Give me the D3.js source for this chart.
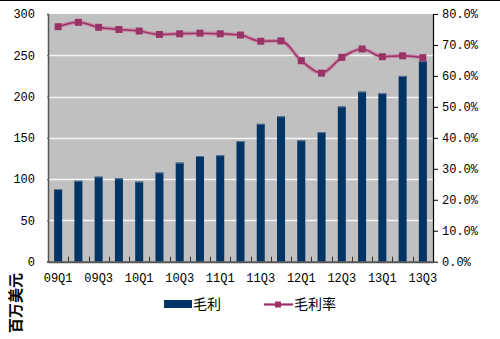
<!DOCTYPE html>
<html><head><meta charset="utf-8">
<script src="https://cdn.jsdelivr.net/npm/d3@7"></script>
<style>body{margin:0;background:#fff}svg{display:block}</style>
</head><body><svg id="c" width="500" height="339"></svg>
<script>
const categories = ["09Q1","09Q2","09Q3","09Q4","10Q1","10Q2","10Q3","10Q4","11Q1","11Q2","11Q3","11Q4","12Q1","12Q2","12Q3","12Q4","13Q1","13Q2","13Q3"];
const grossProfit = [88,98,103,101,97,108,120,128,129,146,167,176,147,157,188,206,204,225,243];
const grossMargin = [75.9,77.3,75.7,75.0,74.5,73.4,73.6,73.8,73.6,73.2,71.2,71.3,64.9,60.9,66.0,68.7,66.2,66.5,65.9];
const leftTicks = [0,50,100,150,200,250,300];
const rightTicks = [0,10,20,30,40,50,60,70,80];
const xLabels = ["09Q1","09Q3","10Q1","10Q3","11Q1","11Q3","12Q1","12Q3","13Q1","13Q3"];

const svg = d3.select("#c");
const L = 48, R = 433, T = 14, B = 261.7;
const fontMono = "'Liberation Mono', monospace";

svg.append("line").attr("x1",0).attr("x2",500).attr("y1",0.5).attr("y2",0.5).attr("stroke","#000");

const x = d3.scaleBand().domain(categories).range([L,R]).paddingInner(0).paddingOuter(0);
const yL = d3.scaleLinear().domain([0,300]).range([B,T]);
const yR = d3.scaleLinear().domain([0,80]).range([B,T]);

svg.append("rect").attr("x",L).attr("y",T).attr("width",R-L).attr("height",B-T).attr("fill","#c0c0c0");

// gridlines
svg.append("g").selectAll("line").data(leftTicks.filter(d=>d>0 && d<300)).join("line")
  .attr("x1",L).attr("x2",R).attr("y1",d=>Math.round(yL(d))+0.5).attr("y2",d=>Math.round(yL(d))+0.5)
  .attr("stroke","#f4f4f4").attr("stroke-width",1.5);

// bars
const bw = 8;
const bars = svg.append("g");
bars.selectAll("rect.b").data(grossProfit).join("rect").attr("class","b")
  .attr("x",(d,i)=>x(categories[i])+x.bandwidth()/2-bw/2)
  .attr("y",d=>yL(d)).attr("width",bw).attr("height",d=>B-yL(d)).attr("fill","#003366");
bars.selectAll("rect.h").data(grossProfit).join("rect").attr("class","h")
  .attr("x",(d,i)=>x(categories[i])+x.bandwidth()/2-bw/2)
  .attr("y",d=>yL(d)).attr("width",bw).attr("height",1).attr("fill","#5a7896");

// left axis
const gL = svg.append("g").attr("transform",`translate(${L},0)`)
  .call(d3.axisLeft(yL).tickValues(leftTicks).tickSize(1).tickPadding(12));
gL.select(".domain").attr("stroke","#555").attr("stroke-width",1.5);
gL.selectAll(".tick line").attr("stroke","#555");
gL.selectAll("text").attr("font-family",fontMono).attr("font-size","12px").attr("fill","#000");

// right axis
const gR = svg.append("g").attr("transform",`translate(${R},0)`)
  .call(d3.axisRight(yR).tickValues(rightTicks).tickSize(5).tickSizeOuter(0).tickPadding(4).tickFormat(d=>d.toFixed(1)+"%"));
gR.select(".domain").attr("stroke","#000").attr("stroke-width",1.2);
gR.selectAll(".tick line").attr("stroke","#000");
gR.selectAll("text").attr("font-family",fontMono).attr("font-size","12px").attr("fill","#000");

// bottom axis
const gB = svg.append("g").attr("transform",`translate(0,${B})`)
  .call(d3.axisBottom(x).tickValues([]).tickSizeOuter(0));
gB.select(".domain").attr("stroke","#555").attr("stroke-width",2);
svg.append("g").selectAll("line").data(categories.slice(1)).join("line")
  .attr("x1",d=>Math.round(x(d))+0.5).attr("x2",d=>Math.round(x(d))+0.5)
  .attr("y1",B).attr("y2",B-5).attr("stroke","#333");
svg.append("g").selectAll("text").data(xLabels).join("text")
  .attr("x",d=>x(d)+x.bandwidth()/2).attr("y",B+20).attr("text-anchor","middle")
  .attr("font-family",fontMono).attr("font-size","12px").attr("fill","#000").text(d=>d);

// line
const line = d3.line().x((d,i)=>x(categories[i])+x.bandwidth()/2).y(d=>yR(d)).curve(d3.curveMonotoneX);
svg.append("path").datum(grossMargin).attr("d",line).attr("fill","none").attr("stroke","#c98aa8").attr("stroke-width",4);
svg.append("path").datum(grossMargin).attr("d",line).attr("fill","none").attr("stroke","#993366").attr("stroke-width",1.5);
svg.append("g").selectAll("rect").data(grossMargin).join("rect")
  .attr("x",(d,i)=>x(categories[i])+x.bandwidth()/2-3.5).attr("y",d=>yR(d)-3.5)
  .attr("width",7).attr("height",7).attr("fill","#993366");

// y title
svg.append("text").attr("transform","translate(21,303) rotate(-90)").attr("text-anchor","middle")
  .attr("font-family","'Noto Sans CJK SC'").attr("font-size","15px").attr("font-weight","bold").attr("fill","#000").text("百万美元");

// legend
const lg = svg.append("g");
lg.append("rect").attr("x",164).attr("y",300).attr("width",28).attr("height",8).attr("fill","#003366");
lg.append("text").attr("x",193).attr("y",309).attr("font-family","'Noto Sans CJK SC'").attr("font-size","14px").attr("fill","#000").text("毛利");
lg.append("line").attr("x1",264).attr("x2",293).attr("y1",304.5).attr("y2",304.5).attr("stroke","#c98aa8").attr("stroke-width",3);
lg.append("line").attr("x1",264).attr("x2",293).attr("y1",304.5).attr("y2",304.5).attr("stroke","#993366").attr("stroke-width",1.2);
lg.append("rect").attr("x",275).attr("y",301.5).attr("width",6).attr("height",6).attr("fill","#993366");
lg.append("text").attr("x",294).attr("y",309).attr("font-family","'Noto Sans CJK SC'").attr("font-size","14px").attr("fill","#000").text("毛利率");
</script></body></html>
